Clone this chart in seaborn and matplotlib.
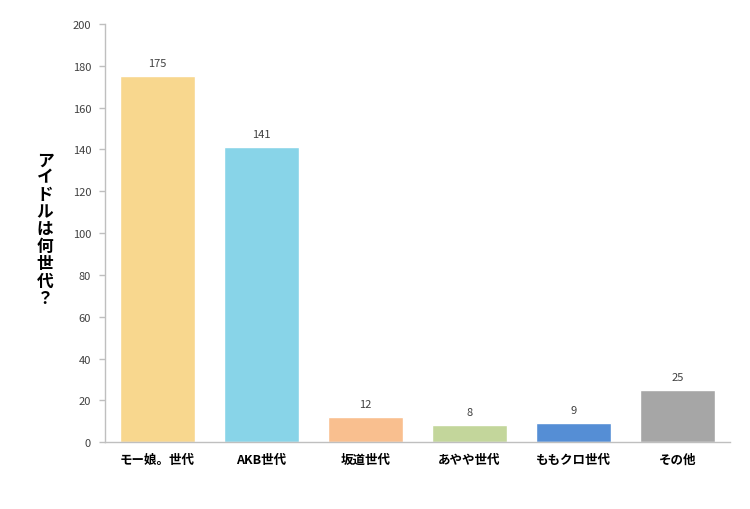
import matplotlib
matplotlib.use("Agg")
from matplotlib import pyplot as plt
import seaborn as sns
import pandas as pd

# data
categories = ["モー娘。世代", "AKB世代", "坂道世代", "あやや世代", "ももクロ世代", "その他"]
counts = [175, 141, 12, 8, 9, 25]
bar_colors = ["#F8D78E", "#88D4E8", "#F9BF8F", "#C3D69B", "#558ED5", "#A6A6A6"]
y_ticks = list(range(0, 201, 20))
y_label = "アイドルは何世代？"

sns.set_theme(style="white")
plt.rcParams['font.family'] = ['Noto Sans CJK JP', 'DejaVu Sans']

df = pd.DataFrame({"category": categories, "count": counts})

fig = plt.figure(figsize=(7.5, 5.1), dpi=100)
ax = fig.add_axes([0.14, 0.131, 0.833, 0.82])

sns.barplot(data=df, x="category", y="count", hue="category", palette=bar_colors,
            width=0.72, legend=False, ax=ax, saturation=1)

for i, v in enumerate(counts):
    ax.text(i, v + 4, str(v), ha="center", va="bottom", fontsize=8, color="#404040")

ax.set_ylim(0, 200)
ax.set_yticks(y_ticks)
ax.set_xlim(-0.5, len(categories) - 0.5)
ax.tick_params(axis="y", left=True, labelsize=8, colors="#404040", length=4,
               width=1, color="#BFBFBF", pad=6)
ax.tick_params(axis="x", labelsize=9, length=0, pad=8)
for lbl in ax.get_xticklabels():
    lbl.set_fontweight("bold")
    lbl.set_color("#000000")

ax.set_xlabel("")
ax.set_ylabel("")
for s in ["top", "right"]:
    ax.spines[s].set_visible(False)
for s in ["left", "bottom"]:
    ax.spines[s].set_color("#BFBFBF")
    ax.spines[s].set_linewidth(1)

fig.text(0.06, 0.55, "\n".join(y_label), ha="center", va="center", fontsize=12,
         fontweight="bold", linespacing=0.95, color="#000000")

fig.savefig("out.png", dpi=100, facecolor="white")
